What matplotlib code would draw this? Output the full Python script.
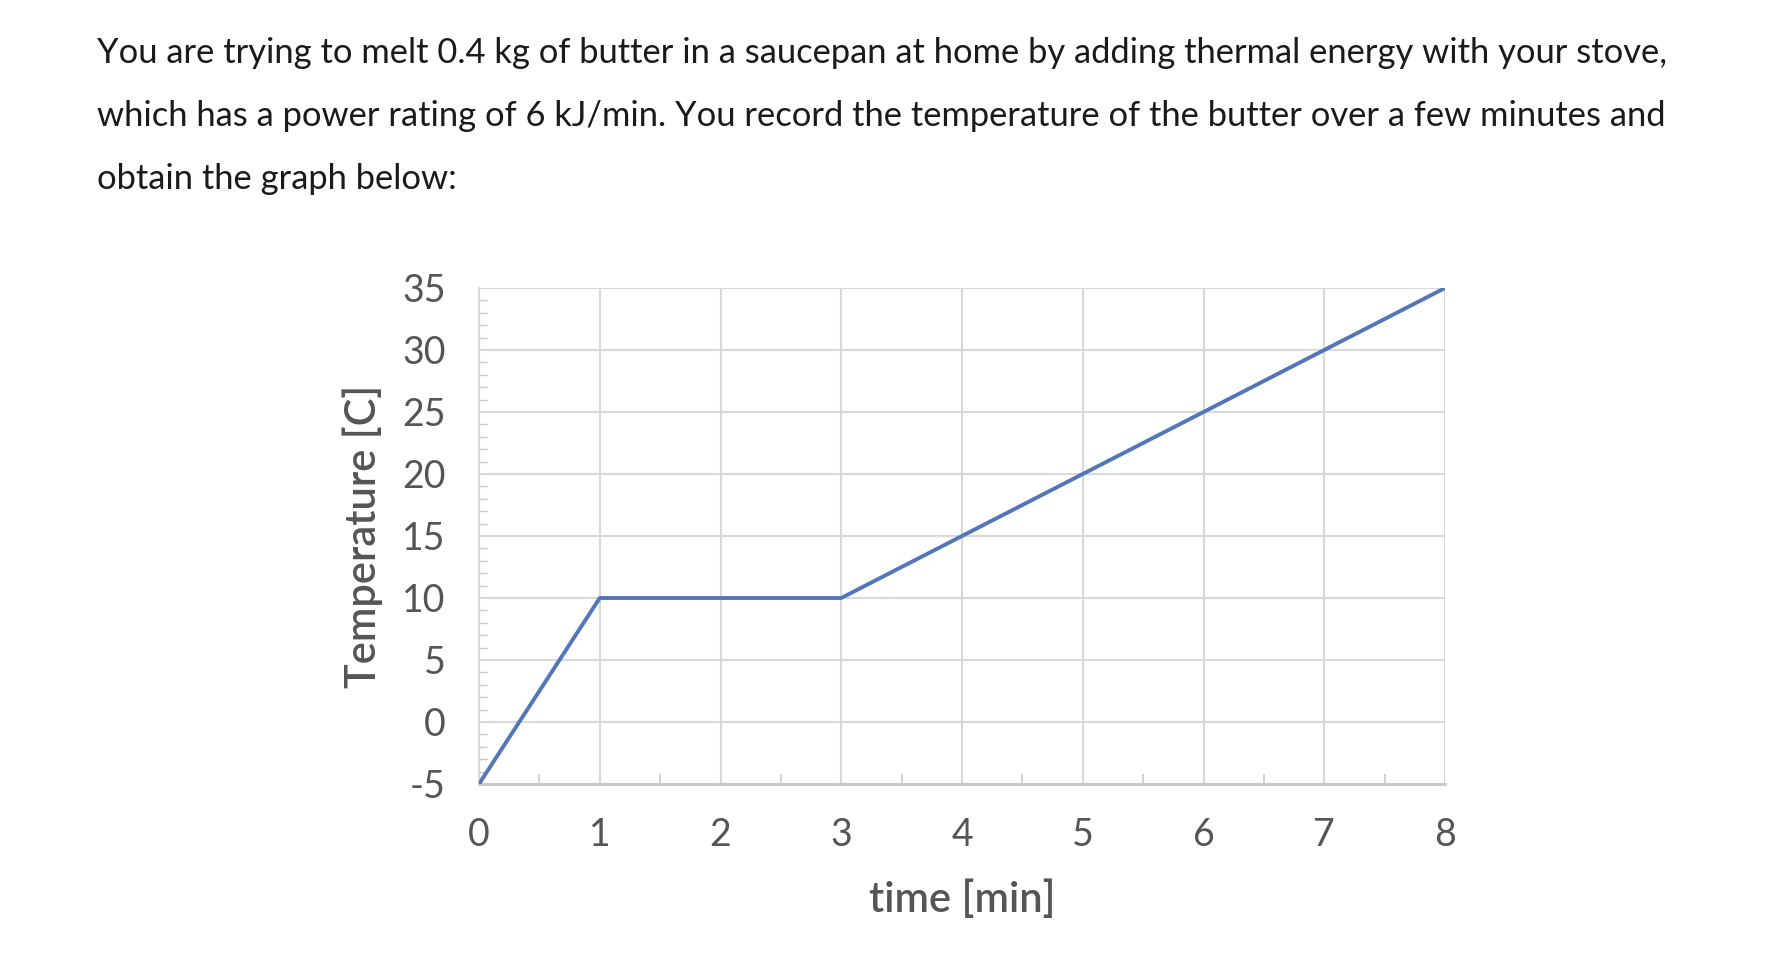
import matplotlib
matplotlib.use("Agg")
import matplotlib.pyplot as plt
from matplotlib.ticker import MultipleLocator

plt.rcParams['axes.unicode_minus'] = False

# data
time_min = [0, 1, 3, 8]
temp_c = [-5, 10, 10, 35]
x_ticks = [0, 1, 2, 3, 4, 5, 6, 7, 8]
y_ticks = [-5, 0, 5, 10, 15, 20, 25, 30, 35]

intro = [
    "You are trying to melt 0.4 kg of butter in a saucepan at home by adding thermal energy with your stove,",
    "which has a power rating of 6 kJ/min. You record the temperature of the butter over a few minutes and",
    "obtain the graph below:",
]

grid_c = "#d9d9d9"
label_c = "#555555"
line_c = "#5276b8"

fig = plt.figure(figsize=(17.78, 9.66), dpi=100)
ax = fig.add_axes([479 / 1778, 1 - 784 / 966, (1445 - 479) / 1778, (784 - 288) / 966])

ax.plot(time_min, temp_c, color=line_c, lw=2.8, solid_capstyle="round", zorder=3)

ax.set_xlim(0, 8)
ax.set_ylim(-5, 35)
ax.set_xticks(x_ticks)
ax.set_yticks(y_ticks)
ax.xaxis.set_minor_locator(MultipleLocator(0.5))
ax.yaxis.set_minor_locator(MultipleLocator(1))
ax.grid(True, which="major", color=grid_c, lw=1.5)
ax.set_axisbelow(True)

for s in ["top", "right"]:
    ax.spines[s].set_visible(False)
ax.spines["left"].set_color(grid_c)
ax.spines["left"].set_linewidth(1.5)
ax.spines["bottom"].set_color("#c8c8c8")
ax.spines["bottom"].set_linewidth(2)

ax.tick_params(which="major", length=0, pad=24, labelsize=27, labelcolor=label_c)
ax.tick_params(axis="y", which="minor", direction="in", length=5.5, width=1, color="#c8c8c8")
ax.tick_params(axis="x", which="minor", direction="in", length=7, width=1.2, color="#c8c8c8")
for t in ax.get_xticklabels() + ax.get_yticklabels():
    t.set_family("Lato")

ax.set_xlabel("time [min]", fontsize=30, color=label_c, family="Lato", weight="semibold", va="center")
ax.set_ylabel("Temperature [C]", fontsize=30, color=label_c, family="Lato", weight="semibold", va="center")
ax.xaxis.set_label_coords(0.5, -0.232)
ax.yaxis.set_label_coords(-0.120, 0.5)

for i, line in enumerate(intro):
    fig.text(97 / 1778, 1 - (53 + 63 * i) / 966, line, fontsize=24.8, family="Lato",
             color="#1a1a1a", va="center", ha="left")

fig.savefig("out.png", dpi=100)
